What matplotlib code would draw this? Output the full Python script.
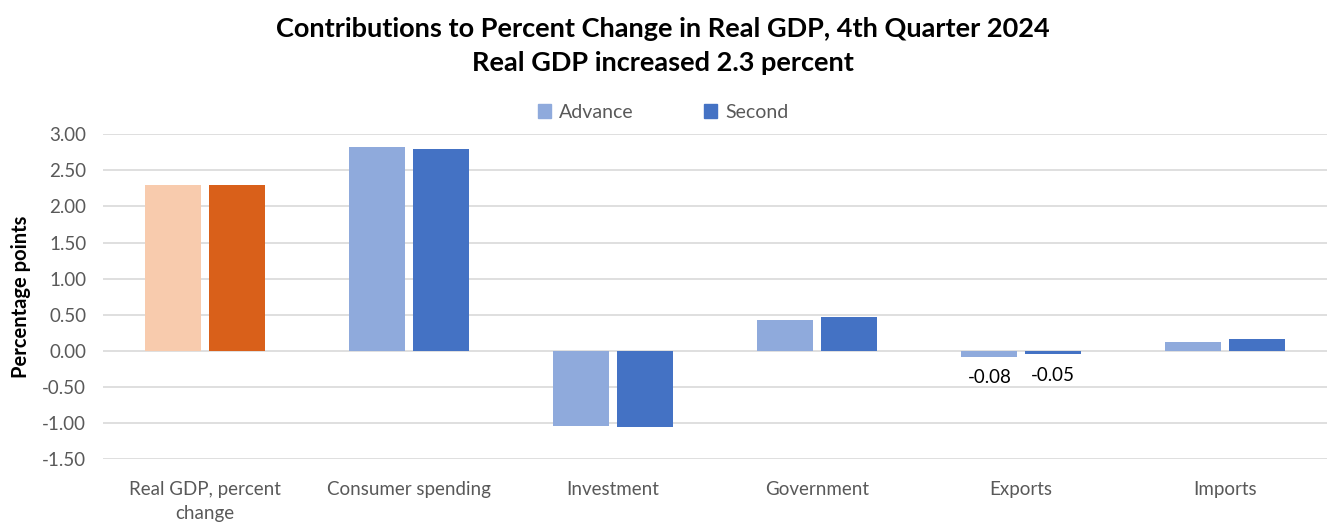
import numpy as np
import matplotlib
matplotlib.use("Agg")
import matplotlib.pyplot as plt
from matplotlib.patches import Patch

plt.rcParams['font.family'] = ['Lato', 'DejaVu Sans']

categories = ["Real GDP, percent\nchange", "Consumer spending", "Investment",
              "Government", "Exports", "Imports"]
advance = [2.30, 2.82, -1.04, 0.42, -0.08, 0.12]
second = [2.30, 2.79, -1.06, 0.47, -0.05, 0.16]
labelled = ["Exports"]  # only these categories get data labels
yticks = [3.0, 2.5, 2.0, 1.5, 1.0, 0.5, 0.0, -0.5, -1.0, -1.5]

adv_colors = ['#F8CBAD'] + ['#8FAADC'] * 5
sec_colors = ['#D9601A'] + ['#4472C4'] * 5

fig = plt.figure(figsize=(13.34, 5.22), dpi=100)
ax = fig.add_axes([0.0772, 0.1207, 0.9176, 0.622])

x = np.arange(len(categories))
w = 0.275
off = 0.155
ax.bar(x - off, advance, w, color=adv_colors, zorder=3)
ax.bar(x + off, second, w, color=sec_colors, zorder=3)

for i, c in enumerate(categories):
    if c in labelled:
        ax.text(x[i] - off, advance[i] - 0.17, f"{advance[i]:.2f}", ha='center', va='top',
                fontsize=13.5, color='black')
        ax.text(x[i] + off, second[i] - 0.17, f"{second[i]:.2f}", ha='center', va='top',
                fontsize=13.5, color='black')

ax.set_xlim(-0.5, len(categories) - 0.5)
ax.set_ylim(-1.5, 3.0)
ax.set_yticks(yticks)
ax.set_yticklabels([f"{v:.2f}" for v in yticks])
ax.set_xticks(x)
ax.set_xticklabels(categories, linespacing=1.5)
ax.tick_params(axis='both', length=0, labelsize=13.5, colors='#595959', pad=12)
ax.tick_params(axis='x', pad=16)
ax.grid(axis='y', color='#D9D9D9', linewidth=1.2, zorder=0)
for s in ax.spines.values():
    s.set_visible(False)

ax.set_ylabel("Percentage points", fontsize=14.5, fontweight='bold', color='black', labelpad=8)

fig.text(0.497, 0.945, "Contributions to Percent Change in Real GDP, 4th Quarter 2024",
         ha='center', va='center', fontsize=19.5, fontweight='bold')
fig.text(0.497, 0.88, "Real GDP increased 2.3 percent",
         ha='center', va='center', fontsize=19.5, fontweight='bold')

handles = [Patch(color='#8FAADC', label='Advance'), Patch(color='#4472C4', label='Second')]
fig.legend(handles=handles, loc='center', bbox_to_anchor=(0.497, 0.785), ncol=2, frameon=False,
           fontsize=14, handlelength=0.7, handleheight=0.7, handletextpad=0.4, columnspacing=3.6,
           labelcolor='#595959')

fig.savefig('out.png', dpi=100)
